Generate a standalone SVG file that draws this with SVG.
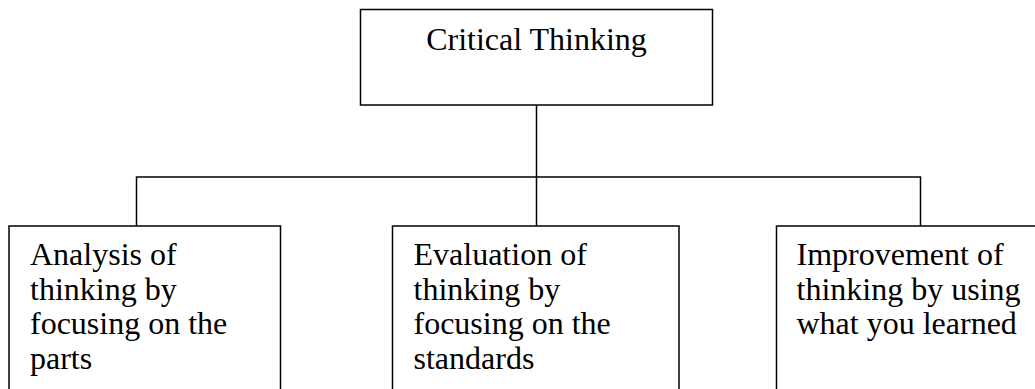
<svg xmlns="http://www.w3.org/2000/svg" width="1035" height="389" viewBox="0 0 1035 389">
  <style>
    .box { fill: #ffffff; stroke: #000000; stroke-width: 1.5; }
    .link { fill: none; stroke: #000000; stroke-width: 1.5; }
    .label { font-family: "Liberation Serif", "Times New Roman", serif; font-size: 32px; fill: #000000; }
  </style>
  <rect width="1035" height="389" fill="#ffffff"/>

  <!-- tree connectors -->
  <g id="connectors">
    <line class="link" x1="536.5" y1="105" x2="536.5" y2="226"/>
    <polyline class="link" points="136.5,226 136.5,177 920.5,177 920.5,226"/>
  </g>

  <g id="node-critical-thinking">
    <rect class="box" x="360.5" y="9.5" width="352" height="95.5"/>
    <text class="label" x="536.5" y="50" text-anchor="middle">Critical Thinking</text>
  </g>

  <g id="node-analysis">
    <rect class="box" x="9" y="226" width="271.5" height="180"/>
    <text class="label" x="30" y="265">
      <tspan x="30" y="265">Analysis of</tspan>
      <tspan x="30" y="299.7">thinking by</tspan>
      <tspan x="30" y="334.4">focusing on the</tspan>
      <tspan x="30" y="369.1">parts</tspan>
    </text>
  </g>

  <g id="node-evaluation">
    <rect class="box" x="392.5" y="226" width="286.5" height="180"/>
    <text class="label" x="413.5" y="265">
      <tspan x="413.5" y="265">Evaluation of</tspan>
      <tspan x="413.5" y="299.7">thinking by</tspan>
      <tspan x="413.5" y="334.4">focusing on the</tspan>
      <tspan x="413.5" y="369.1">standards</tspan>
    </text>
  </g>

  <g id="node-improvement">
    <rect class="box" x="776.5" y="226" width="280" height="180"/>
    <text class="label" x="796.5" y="265">
      <tspan x="796.5" y="265">Improvement of</tspan>
      <tspan x="796.5" y="299.7">thinking by using</tspan>
      <tspan x="796.5" y="334.4">what you learned</tspan>
    </text>
  </g>
</svg>
